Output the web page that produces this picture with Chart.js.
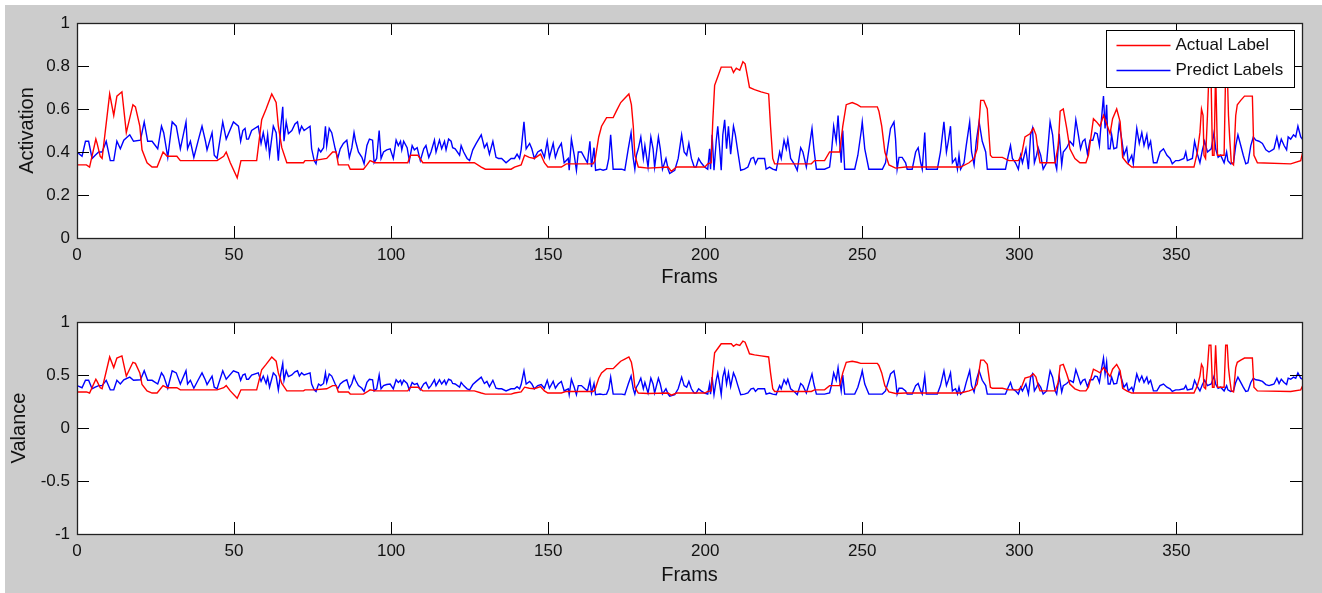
<!DOCTYPE html>
<html>
<head>
<meta charset="utf-8">
<script src="https://cdn.jsdelivr.net/npm/chart.js@4.4.1/dist/chart.umd.min.js"></script>
<style>
  html, body { margin: 0; padding: 0; background: #fff; }
  #fig { position: absolute; left: 5px; top: 5px; width: 1317px; height: 588px; background: #cccccc; }
  canvas { position: absolute; left: 0; }
</style>
</head>
<body>
<div id="fig"></div>
<canvas id="actChart" width="1322" height="296" style="top:0"></canvas>
<canvas id="valChart" width="1322" height="297" style="top:296px"></canvas>
<script>
// [frame, value]
const actualLabel = [
  [0,.34],[3,.34],[4,.33],[6,.46],[6.4,.44],[7.4,.38],[8,.37],[10.4,.67],[11.7,.57],[12.7,.66],[14.3,.68],
  [15.7,.49],[17.8,.62],[18.6,.61],[20,.52],[20.7,.41],[22.3,.35],[23.9,.33],[25.5,.33],[27.4,.40],[28.7,.38],
  [31.8,.38],[32.9,.36],[44.6,.36],[46.7,.38],[47.5,.40],[48.8,.35],[51,.28],[52.2,.36],[57.2,.36],[58.8,.55],
  [60.2,.60],[62,.67],[63.4,.63],[64.1,.52],[65.2,.42],[66.8,.35],[72.1,.35],[72.6,.36],[75.3,.36],[79.5,.37],
  [81.4,.40],[82.5,.40],[83.2,.34],[86.4,.34],[87,.32],[91.2,.32],[92.3,.34],[93.3,.36],[94.9,.35],[105.3,.35],
  [106.2,.385],[108.5,.385],[110.1,.35],[126.5,.35],[128.7,.33],[130,.32],[138.2,.32],[139.3,.33],[141.4,.34],
  [142.5,.385],[144,.375],[145.6,.37],[147.6,.39],[148.8,.35],[149.9,.33],[154.2,.33],[155.8,.345],[164.3,.345],
  [164.9,.36],[166.1,.47],[167,.52],[168.6,.56],[170.7,.56],[171.7,.59],[173.1,.63],[174.4,.65],[175.7,.67],
  [176.5,.62],[177.1,.52],[177.6,.385],[178.7,.33],[181.8,.325],[188.2,.33],[189.2,.31],[190.9,.33],[199.9,.33],
  [200.8,.345],[201.9,.35],[202.4,.54],[203,.71],[204,.75],[205.1,.795],[208.3,.795],[209,.77],[209.9,.79],
  [211,.78],[212,.82],[212.7,.81],[213.6,.74],[214.1,.70],[215.7,.69],[217.8,.68],[220.2,.67],[220.8,.52],
  [221.5,.37],[222.1,.345],[233.8,.345],[234.8,.36],[238,.36],[239.6,.40],[242.8,.40],[243.8,.52],[244.9,.62],
  [246.8,.63],[248.4,.62],[249.5,.61],[254.8,.61],[255.3,.59],[256.2,.52],[257.2,.40],[258.5,.34],[260.6,.325],
  [263.8,.33],[281.3,.33],[284,.35],[285.6,.37],[286.6,.415],[287.7,.64],[288.7,.64],[289.8,.60],[290.8,.385],
  [291.4,.375],[294.6,.375],[296.7,.36],[299.7,.36],[300.7,.385],[301.8,.47],[303.4,.485],[304.5,.51],[305.3,.48],
  [306,.40],[306.6,.35],[311.4,.35],[312.4,.43],[313,.59],[314,.60],[315.1,.51],[316.1,.415],[317.7,.37],
  [319.3,.35],[321.2,.35],[322,.385],[323,.49],[323.6,.555],[324.6,.54],[325.7,.52],[326.8,.57],[327.6,.54],
  [328.9,.485],[329.7,.555],[331,.60],[332.1,.54],[332.9,.375],[334.2,.35],[335.8,.33],[355.6,.33],[356.7,.40],
  [357.5,.49],[358,.60],[358.5,.57],[358.8,.385],[359.3,.37],[359.9,.57],[360.4,.78],[361,.78],[361.5,.385],
  [362,.385],[362.5,.78],[363.1,.385],[365.2,.385],[365.7,.78],[366.2,.78],[366.6,.57],[367,.46],[367.5,.35],
  [368.2,.34],[368.9,.57],[369.4,.62],[370.5,.64],[371.7,.66],[374.2,.66],[374.7,.385],[375.8,.35],[386.4,.345],
  [389.6,.36],[390.4,.41]
];
const predictLabels = [
  [0,.40],[1.6,.38],[2.7,.45],[3.7,.45],[4.8,.37],[5.8,.385],[6.9,.40],[8,.40],[9.3,.45],[10.6,.36],[11.7,.36],
  [12.7,.45],[13.8,.415],[14.9,.455],[16.8,.48],[18,.45],[20.2,.455],[21.4,.54],[22.5,.45],[23.9,.45],[25.7,.415],
  [26.9,.52],[27.6,.49],[28.9,.375],[30.3,.54],[31.6,.52],[32.9,.415],[34.7,.54],[35.2,.415],[36.1,.45],
  [37.2,.375],[38.7,.46],[39.8,.52],[40.9,.45],[41.4,.41],[43,.49],[43.7,.385],[44.6,.37],[46.4,.54],[47.5,.46],
  [49.8,.54],[51.4,.52],[52.1,.45],[52.8,.50],[53.5,.51],[54,.46],[54.6,.46],[55.6,.50],[57.7,.52],[58.6,.44],
  [59.3,.49],[60.2,.42],[60.7,.48],[61.3,.385],[62.5,.52],[63.4,.49],[64.1,.36],[64.9,.52],[65.5,.61],[65.9,.45],
  [66.6,.54],[67.3,.485],[68.4,.50],[69.4,.53],[70.2,.54],[70.8,.49],[71.5,.52],[72.3,.50],[74.2,.52],[74.7,.415],
  [75.5,.36],[76.1,.345],[76.9,.415],[77.6,.40],[78.5,.42],[79.1,.52],[79.5,.43],[80.3,.51],[81.1,.49],[82.2,.415],
  [83,.37],[83.8,.415],[84.8,.44],[85.9,.455],[86.7,.375],[87.5,.42],[88.2,.49],[88.7,.45],[89.6,.40],[90.7,.375],
  [91.4,.345],[92.3,.43],[93.1,.46],[94.1,.455],[94.6,.35],[95.4,.37],[96.2,.50],[96.8,.37],[97.6,.40],[98.6,.41],
  [99.7,.415],[100.7,.37],[101.6,.455],[102.3,.43],[103,.45],[103.4,.41],[104,.45],[105.1,.42],[105.8,.36],
  [106.7,.43],[107.4,.41],[108.3,.42],[109.3,.36],[110.4,.415],[111.1,.43],[112,.375],[112.7,.40],[113.8,.455],
  [114.3,.40],[115.4,.455],[116.1,.415],[117,.45],[117.5,.41],[118.3,.46],[119.1,.45],[119.6,.42],[120.4,.415],
  [121.8,.385],[122.3,.43],[123.1,.40],[124.2,.37],[125,.36],[126,.41],[127.1,.44],[128.7,.48],[129.7,.42],
  [130.5,.44],[131.3,.39],[132.4,.45],[133.4,.375],[134.2,.37],[135.2,.37],[136.6,.35],[138.2,.37],[139.3,.37],
  [140.1,.39],[140.9,.37],[141.4,.41],[142.3,.54],[143,.415],[144.1,.44],[144.8,.415],[145.6,.37],[146.7,.40],
  [147.8,.41],[148.8,.375],[149.7,.45],[150.4,.375],[151.6,.44],[152.3,.375],[153.2,.415],[154.2,.44],[155.1,.35],
  [156.4,.37],[156.7,.315],[157.4,.46],[158.3,.385],[159,.315],[159.6,.40],[160.6,.40],[161.7,.37],[162.5,.35],
  [163.3,.45],[163.8,.33],[164.6,.42],[165.1,.315],[166.5,.32],[167.5,.315],[168.6,.32],[169.3,.37],[169.9,.48],
  [170.7,.32],[173.4,.32],[174.4,.315],[175.5,.415],[176.4,.49],[177.1,.37],[177.6,.32],[178.1,.385],[178.7,.415],
  [179.5,.47],[180.3,.37],[180.8,.43],[181.8,.33],[182.7,.47],[183.4,.415],[183.9,.33],[185.1,.47],[185.7,.415],
  [186.4,.32],[187.5,.37],[188.2,.32],[188.7,.30],[190.3,.315],[191.4,.37],[192.5,.48],[193.3,.40],[194.1,.385],
  [194.8,.44],[195.6,.37],[196.5,.33],[197.1,.33],[197.9,.37],[198.7,.35],[199.8,.33],[200.8,.32],[201.4,.415],
  [201.7,.32],[202.2,.48],[202.8,.315],[203.5,.45],[204,.52],[204.6,.415],[205.1,.315],[205.6,.48],[206.2,.55],
  [206.8,.415],[207.4,.52],[208.1,.39],[209,.52],[209.6,.48],[210.4,.40],[211.3,.315],[212.5,.32],[213.6,.33],
  [214.6,.37],[215.4,.375],[216,.345],[216.8,.37],[218.9,.37],[219.4,.32],[220.5,.33],[221.5,.32],[222.6,.315],
  [223.7,.40],[224.2,.37],[225.1,.455],[225.8,.415],[226.3,.46],[227.2,.37],[228.5,.34],[229.3,.315],[230.4,.42],
  [231.1,.40],[232.2,.33],[233.2,.43],[234,.51],[234.6,.415],[235.4,.32],[238,.32],[239.6,.33],[240.3,.415],
  [240.9,.52],[241.7,.45],[242.3,.57],[242.8,.45],[243.3,.35],[243.8,.50],[244.4,.32],[247.6,.32],[248.6,.385],
  [249.7,.50],[250,.54],[250.8,.415],[252.1,.32],[256.4,.32],[257.4,.35],[259,.51],[260.1,.54],[260.6,.46],
  [261.1,.32],[261.7,.375],[262.7,.375],[263.8,.35],[264.3,.32],[265.9,.32],[267,.40],[267.8,.42],[268.6,.35],
  [269.1,.32],[269.9,.49],[270.4,.32],[273.9,.32],[274.9,.40],[276,.54],[276.8,.40],[277.4,.45],[278.1,.52],
  [278.7,.35],[279.7,.37],[280.3,.32],[280.8,.385],[281.3,.32],[282.4,.35],[283.1,.43],[284.2,.54],[284.8,.40],
  [285.6,.34],[286.3,.45],[287.2,.54],[288.2,.45],[289.3,.40],[289.8,.32],[295.6,.32],[296.5,.385],[297.2,.43],
  [297.8,.37],[298.8,.35],[299.7,.32],[300.4,.385],[301,.35],[302.1,.415],[302.9,.32],[303.6,.48],[304.2,.51],
  [304.8,.35],[305.5,.385],[306,.42],[306.8,.385],[307.6,.32],[308.7,.35],[309.8,.54],[310.6,.48],[311.4,.35],
  [311.9,.32],[312.7,.485],[313.5,.34],[314,.40],[315.1,.42],[316.1,.45],[317.2,.43],[318,.55],[318.8,.48],
  [319.5,.415],[320.2,.45],[320.9,.46],[321.7,.39],[322.5,.455],[323.4,.455],[324.1,.49],[324.8,.485],[325.5,.43],
  [326.2,.56],[326.8,.66],[327.3,.51],[327.8,.62],[328.3,.415],[328.9,.415],[329.4,.48],[330.1,.415],[331,.42],
  [331.8,.53],[332.6,.46],[333.3,.385],[334.2,.42],[334.7,.35],[335.8,.385],[336.3,.345],[337.4,.51],[338.2,.44],
  [339,.49],[339.7,.43],[340.6,.48],[341.1,.42],[341.8,.45],[342.7,.35],[343.8,.35],[344.8,.40],[345.9,.415],
  [347,.385],[348,.37],[348.7,.345],[349.8,.36],[350.8,.36],[352.4,.37],[353,.40],[353.5,.36],[355.1,.37],
  [355.8,.45],[356.7,.39],[357.5,.35],[358.3,.41],[359,.45],[359.9,.40],[361.1,.415],[362,.49],[362.5,.415],
  [363.3,.375],[364.1,.385],[365.2,.35],[366,.40],[366.4,.36],[367.3,.345],[368.2,.35],[368.9,.43],[369.6,.48],
  [370.5,.43],[371.3,.385],[372.1,.345],[372.8,.35],[373.7,.43],[374.5,.47],[375.3,.455],[376.3,.45],[377.4,.44],
  [378.5,.41],[379.5,.40],[380.6,.41],[381.1,.415],[382,.47],[382.7,.42],[383.4,.46],[384.3,.43],[385.1,.41],
  [385.6,.47],[386.4,.46],[387.3,.48],[388,.47],[388.7,.52],[389.6,.47],[390.4,.455]
];

const frameTicks = [0, 50, 100, 150, 200, 250, 300, 350];
const activationTicks = [0, 0.2, 0.4, 0.6, 0.8, 1];
const valanceTicks = [-1, -0.5, 0, 0.5, 1];

const TEXT = '#111';
const FONT = 'Liberation Sans, Arial, sans-serif';

// matlab style box: white axes, black frame, inward ticks on all four sides
const boxPlugin = {
  id: 'box',
  beforeDraw(chart) {
    const a = chart.chartArea, ctx = chart.ctx;
    ctx.save();
    ctx.fillStyle = '#fff';
    ctx.fillRect(a.left, a.top, a.right - a.left, a.bottom - a.top);
    ctx.restore();
  },
  afterDatasetsDraw(chart) {
    const a = chart.chartArea, ctx = chart.ctx;
    const len = 12;
    ctx.save();
    ctx.strokeStyle = '#000';
    ctx.lineWidth = 1;
    ctx.beginPath();
    chart.scales.x.ticks.forEach(t => {
      const px = Math.round(chart.scales.x.getPixelForValue(t.value)) + 0.5;
      ctx.moveTo(px, a.bottom); ctx.lineTo(px, a.bottom - len);
      ctx.moveTo(px, a.top); ctx.lineTo(px, a.top + len);
    });
    chart.scales.y.ticks.forEach(t => {
      const py = Math.round(chart.scales.y.getPixelForValue(t.value)) + 0.5;
      ctx.moveTo(a.left, py); ctx.lineTo(a.left + len, py);
      ctx.moveTo(a.right, py); ctx.lineTo(a.right - len, py);
    });
    ctx.stroke();
    ctx.strokeStyle = '#222';
    ctx.lineWidth = 1.3;
    ctx.strokeRect(Math.round(a.left) + 0.5, Math.round(a.top) + 0.5,
                   Math.round(a.right - a.left), Math.round(a.bottom - a.top));
    ctx.restore();
  }
};

// legend box in the upper right corner of the axes
const legendBox = {
  id: 'legendBox',
  afterDraw(chart, args, opts) {
    if (!opts.show) return;
    const a = chart.chartArea, ctx = chart.ctx;
    const w = 188, h = 57;
    const x0 = Math.round(a.right - 8 - w) + 0.5, y0 = Math.round(a.top + 7) + 0.5;
    ctx.save();
    ctx.fillStyle = '#fff';
    ctx.fillRect(x0, y0, w, h);
    ctx.strokeStyle = '#000';
    ctx.lineWidth = 1;
    ctx.strokeRect(x0, y0, w, h);
    ctx.font = '17px ' + FONT;
    ctx.textBaseline = 'middle';
    chart.data.datasets.forEach((ds, i) => {
      const yy = y0 + 15 + i * 25;
      ctx.strokeStyle = ds.borderColor;
      ctx.lineWidth = 1.4;
      ctx.beginPath();
      ctx.moveTo(x0 + 10, yy); ctx.lineTo(x0 + 64, yy);
      ctx.stroke();
      ctx.fillStyle = TEXT;
      ctx.fillText(ds.label, x0 + 69, yy);
    });
    ctx.restore();
  }
};

function makeChart(id, yTitle, yMin, yMax, yTicks, opt) {
  return new Chart(document.getElementById(id), {
    type: 'line',
    data: {
      datasets: [
        { label: 'Actual Label', data: actualLabel.map(p => ({ x: p[0], y: p[1] })),
          borderColor: '#ff0000', borderWidth: 1.4, pointRadius: 0, tension: 0 },
        { label: 'Predict Labels', data: predictLabels.map(p => ({ x: p[0], y: p[1] })),
          borderColor: '#0000ff', borderWidth: 1.4, pointRadius: 0, tension: 0 }
      ]
    },
    options: {
      responsive: false,
      animation: false,
      layout: { padding: { top: opt.top, right: 20, left: 0, bottom: 0 } },
      plugins: {
        legend: { display: false },
        tooltip: { enabled: false },
        legendBox: { show: opt.legend }
      },
      scales: {
        x: {
          type: 'linear', min: 0, max: 390,
          afterBuildTicks: s => { s.ticks = frameTicks.map(v => ({ value: v })); },
          afterFit: s => { s.height = opt.xh; },
          grid: { display: false, drawTicks: false },
          border: { display: false },
          ticks: { color: TEXT, font: { family: FONT, size: 17 }, padding: 7, maxRotation: 0, autoSkip: false },
          title: { display: true, text: 'Frams', color: TEXT, font: { family: FONT, size: 20 },
                   padding: { top: 0, bottom: opt.xtp } }
        },
        y: {
          type: 'linear', min: yMin, max: yMax,
          afterBuildTicks: s => { s.ticks = yTicks.map(v => ({ value: v })); },
          afterFit: s => { s.width = 77; },
          grid: { display: false, drawTicks: false },
          border: { display: false },
          ticks: { color: TEXT, font: { family: FONT, size: 17 }, padding: 7, callback: v => String(v) },
          title: { display: true, text: yTitle, color: TEXT, font: { family: FONT, size: 20 },
                   padding: { top: opt.ytp, bottom: 0 } }
        }
      }
    },
    plugins: [boxPlugin, legendBox]
  });
}

makeChart('actChart', 'Activation', 0, 1, activationTicks, { top: 23, xh: 58, xtp: 7, ytp: 15, legend: true });
makeChart('valChart', 'Valance', -1, 1, valanceTicks, { top: 26, xh: 59, xtp: 6, ytp: 7, legend: false });
</script>
</body>
</html>
